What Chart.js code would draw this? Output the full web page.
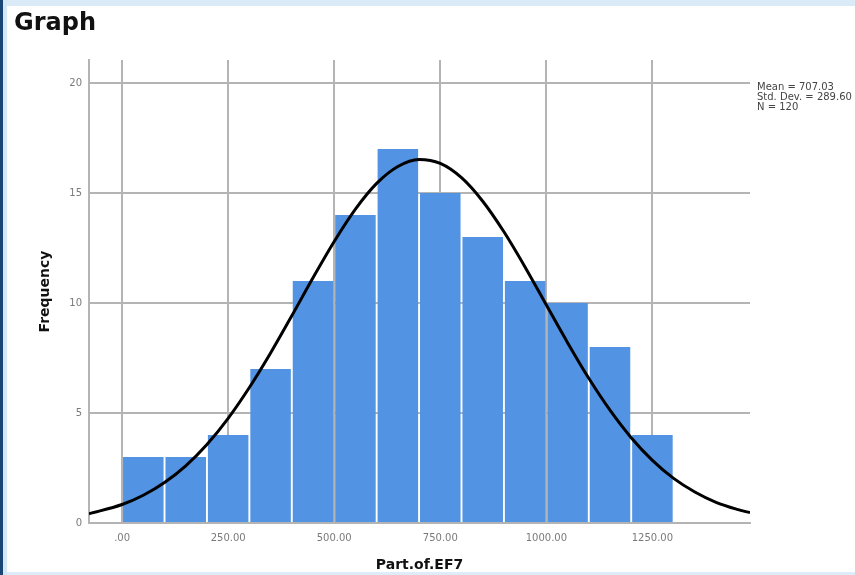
<!DOCTYPE html>
<html>
<head>
<meta charset="utf-8">
<script src="https://cdn.jsdelivr.net/npm/chart.js@4.4.1/dist/chart.umd.min.js"></script>
<style>
  html, body { margin: 0; padding: 0; background: #ffffff; }
  #wrap { position: relative; width: 855px; height: 575px; overflow: hidden; background: #ffffff; }
  #c { position: absolute; left: 0; top: 0; }
  .band { position: absolute; }
  #title { position: absolute; left: 14px; top: 6px; font-family: "DejaVu Sans", sans-serif; font-weight: bold; font-size: 24px; color: #111; line-height: 32px; }
  #stats { position: absolute; left: 757px; top: 82px; font-family: "DejaVu Sans", sans-serif; font-size: 10px; line-height: 10px; color: #444; white-space: nowrap; }
</style>
</head>
<body>
<div id="wrap">
  <canvas id="c" width="855" height="575"></canvas>
  <div class="band" style="left:0;top:0;width:855px;height:6px;background:#dbeaf7;"></div>
  <div class="band" style="left:0;top:572px;width:855px;height:3px;background:#dcecf8;"></div>
  <div class="band" style="left:0;top:0;width:7px;height:575px;background:#d6e7f6;"></div>
  <div class="band" style="left:0;top:0;width:3px;height:575px;background:#1b4777;"></div>
  <div id="title">Graph</div>
  <div id="stats">Mean = 707.03<br>Std. Dev. = 289.60<br>N = 120</div>
</div>
<script>
// Histogram bins (centres) and counts
const binCenters = [50, 150, 250, 350, 450, 550, 650, 750, 850, 950, 1050, 1150, 1250];
const counts     = [3, 3, 4, 7, 11, 14, 17, 15, 13, 11, 10, 8, 4];

// Normal curve
const curveX = [-78, 0, 50, 100, 150, 200, 250, 300, 350, 400, 450, 500, 550, 600, 650, 700, 750, 800, 850, 900, 950, 1000, 1050, 1100, 1150, 1200, 1250, 1300, 1350, 1400, 1450, 1480];
const curveY = [0.42, 0.84, 1.26, 1.84, 2.6, 3.57, 4.76, 6.16, 7.73, 9.42, 11.15, 12.8, 14.27, 15.44, 16.21, 16.53, 16.35, 15.7, 14.63, 13.24, 11.63, 9.91, 8.2, 6.58, 5.13, 3.88, 2.85, 2.03, 1.41, 0.94, 0.62, 0.47];

// Tick values and labels
const xTickValues = [0, 250, 500, 750, 1000, 1250];
const xTickLabels = [".00", "250.00", "500.00", "750.00", "1000.00", "1250.00"];
const yTickValues = [0, 5, 10, 15, 20];
const yTickLabels = ["0", "5", "10", "15", "20"];

const gridColor = '#b4b4b4';

new Chart(document.getElementById('c'), {
  type: 'bar',
  data: {
    datasets: [
      {
        type: 'line',
        data: curveX.map((x, i) => ({ x: x, y: curveY[i] })),
        borderColor: '#000000',
        borderWidth: 3,
        pointRadius: 0,
        fill: false,
        cubicInterpolationMode: 'monotone',
        order: 0
      },
      {
        type: 'bar',
        data: binCenters.map((x, i) => ({ x: x, y: counts[i] })),
        backgroundColor: '#5293e3',
        borderWidth: 0,
        barPercentage: 0.955,
        categoryPercentage: 1.0,
        order: 1
      }
    ]
  },
  options: {
    responsive: false,
    animation: false,
    devicePixelRatio: 1,
    layout: { padding: { left: 0, right: 105, top: 60, bottom: 0 } },
    plugins: { legend: { display: false }, tooltip: { enabled: false }, title: { display: false } },
    scales: {
      x: {
        type: 'linear',
        min: -78,
        max: 1480,
        offset: false,
        afterBuildTicks: (s) => { s.ticks = xTickValues.map(v => ({ value: v })); },
        afterFit: (s) => { s.height = 52; },
        ticks: {
          autoSkip: false, maxRotation: 0, padding: 9,
          color: '#7a7a7a',
          font: { family: 'DejaVu Sans', size: 10 },
          callback: (v) => { const i = xTickValues.indexOf(v); return i >= 0 ? xTickLabels[i] : ''; }
        },
        grid: { color: gridColor, lineWidth: 2, drawTicks: false, offset: false },
        border: { color: gridColor, width: 2 },
        title: {
          display: true, text: 'Part.of.EF7',
          color: '#111',
          font: { family: 'DejaVu Sans', size: 14, weight: 'bold' },
          padding: { top: 0, bottom: 1 }
        }
      },
      y: {
        type: 'linear',
        min: 0,
        max: 21.05,
        afterBuildTicks: (s) => { s.ticks = yTickValues.map(v => ({ value: v })); },
        afterFit: (s) => { s.width = 89; },
        ticks: {
          padding: 7,
          color: '#7a7a7a',
          font: { family: 'DejaVu Sans', size: 10 },
          callback: (v) => { const i = yTickValues.indexOf(v); return i >= 0 ? yTickLabels[i] : ''; }
        },
        grid: { color: gridColor, lineWidth: 2, drawTicks: false },
        border: { color: gridColor, width: 2 },
        title: {
          display: true, text: 'Frequency',
          color: '#111',
          font: { family: 'DejaVu Sans', size: 14, weight: 'bold' },
          padding: { top: 37, bottom: 0 }
        }
      }
    }
  }
});
</script>
</body>
</html>
